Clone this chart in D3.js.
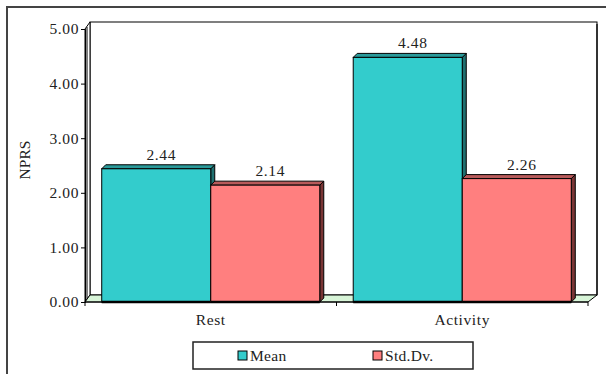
<!DOCTYPE html>
<html><head><meta charset="utf-8">
<script src="https://cdn.jsdelivr.net/npm/d3@7/dist/d3.min.js"></script>
<style>
html,body{margin:0;padding:0;background:#fff;}
svg{display:block;}
text{font-family:"Liberation Serif","Times New Roman",serif;fill:#222;}
</style></head>
<body>
<svg id="c" width="606" height="374"></svg>
<script>
const categories = ["Rest", "Activity"];
const seriesNames = ["Mean", "Std.Dv."];
const meanValues = [2.44, 4.48];
const stdValues = [2.14, 2.26];
const yTicks = [0, 1, 2, 3, 4, 5];
const yTitle = "NPRS";

const fills = {"Mean": "#33CCCC", "Std.Dv.": "#FF7F7F"};
const tops = {"Mean": "#2A9A9A", "Std.Dv.": "#B85A5A"};
const sides = {"Mean": "#1F7070", "Std.Dv.": "#7A3535"};

const svg = d3.select("#c");
const W = 606, H = 374;

// outer frame (clipped on right/bottom)
svg.append("rect").attr("x", 7).attr("y", 7).attr("width", 620).attr("height", 400)
  .attr("fill", "none").attr("stroke", "#444").attr("stroke-width", 2);

const x0 = 85, x1 = 588;
const y = d3.scaleLinear().domain([0, 5]).range([302, 29]);
const x = d3.scaleBand().domain(categories).range([x0, x1]).paddingInner(0.133).paddingOuter(0.0665);
const xs = d3.scaleBand().domain(seriesNames).range([0, x.bandwidth()]);

const wdx = 5, wdy = -7; // wall depth
const bd = 4; // bar depth

const g = svg.append("g");
// back wall
g.append("rect").attr("x", x0 + wdx).attr("y", y(5) + wdy)
  .attr("width", x1 - x0 + 4).attr("height", y(0) - y(5))
  .attr("fill", "#fff").attr("stroke", "#000").attr("stroke-width", 1);
// right shadow of back wall
g.append("line").attr("x1", x1 + wdx + 0 + 4).attr("x2", x1 + wdx + 4)
  .attr("y1", y(5) + wdy + 2).attr("y2", y(0) + wdy)
  .attr("stroke", "#333").attr("stroke-width", 2);
// side wall
g.append("path").attr("d", d3.line()([[x0, y(5)], [x0 + wdx, y(5) + wdy], [x0 + wdx, y(0) + wdy], [x0, y(0)]]) + "Z")
  .attr("fill", "#fff").attr("stroke", "#000").attr("stroke-width", 1);
g.append("line").attr("x1", x0 + 2).attr("x2", x0 + 2).attr("y1", y(5) - 2).attr("y2", y(0) - 2)
  .attr("stroke", "#000").attr("stroke-width", 1);
// floor
g.append("path").attr("d", d3.line()([[x0, y(0)], [x0 + wdx, y(0) + wdy], [x1 + wdx + 4, y(0) + wdy], [x1, y(0)]]) + "Z")
  .attr("fill", "#D8F5D8").attr("stroke", "#000").attr("stroke-width", 1);

// y axis
const yAxis = d3.axisLeft(y).tickValues(yTicks).tickFormat(d3.format(".2f")).tickSize(4).tickPadding(2);
const ya = svg.append("g").attr("transform", `translate(${x0},0)`).call(yAxis);
ya.select(".domain").attr("stroke", "#000");
ya.selectAll(".tick line").attr("stroke", "#000");
ya.selectAll("text").attr("font-size", 15.5).attr("font-family", "Liberation Serif").attr("fill", "#333").attr("letter-spacing", 0.6);

// x axis
const xa = svg.append("g").attr("transform", `translate(0,${y(0)})`);
xa.append("line").attr("x1", x0).attr("x2", x1).attr("stroke", "#000");
const bounds = [x0, ...categories.slice(1).map(c => x(c) - x.step() * x.paddingInner() / 2), x1];
xa.selectAll("line.t").data(bounds).join("line").attr("class", "t")
  .attr("x1", d => d).attr("x2", d => d).attr("y1", 0).attr("y2", 4).attr("stroke", "#000");
xa.selectAll("text").data(categories).join("text")
  .attr("x", d => x(d) + x.bandwidth() / 2).attr("y", 23)
  .attr("text-anchor", "middle").attr("font-size", 15.5).attr("fill", "#333").attr("letter-spacing", 0.6)
  .text(d => d);

// bars
const seriesData = {"Mean": meanValues, "Std.Dv.": stdValues};
const bars = [];
categories.forEach((c, i) => {
  seriesNames.forEach(s => bars.push({c, s, v: seriesData[s][i]}));
});
const bg = svg.append("g");
bars.forEach(b => {
  const bx = x(b.c) + xs(b.s), w = xs.bandwidth(), yt = y(b.v), yb = y(0);
  const gb = bg.append("g");
  gb.append("path").attr("d", d3.line()([[bx + w, yt], [bx + w + bd, yt - bd], [bx + w + bd, yb - bd], [bx + w, yb]]) + "Z")
    .attr("fill", sides[b.s]).attr("stroke", "#000").attr("stroke-width", 1);
  gb.append("path").attr("d", d3.line()([[bx, yt], [bx + bd, yt - bd], [bx + w + bd, yt - bd], [bx + w, yt]]) + "Z")
    .attr("fill", tops[b.s]).attr("stroke", "#000").attr("stroke-width", 1);
  gb.append("rect").attr("x", bx).attr("y", yt).attr("width", w).attr("height", yb - yt)
    .attr("fill", fills[b.s]).attr("stroke", "#000").attr("stroke-width", 1);
  gb.append("line").attr("x1", bx).attr("x2", bx + w).attr("y1", yb).attr("y2", yb)
    .attr("stroke", "#000").attr("stroke-width", 2.5);
  svg.append("text").attr("x", bx + w / 2 + bd + 1).attr("y", yt - bd - 5)
    .attr("text-anchor", "middle").attr("font-size", 15.5).attr("fill", "#333").attr("letter-spacing", 0.6)
    .text(d3.format(".2f")(b.v));
});

// y title
svg.append("text").attr("transform", "translate(30,160) rotate(-90)")
  .attr("text-anchor", "middle").attr("font-size", 15.5).attr("fill", "#333")
  .text(yTitle);

// legend
const lg = svg.append("g");
lg.append("rect").attr("x", 193).attr("y", 342).attr("width", 280).attr("height", 27)
  .attr("fill", "#fff").attr("stroke", "#222").attr("stroke-width", 1.5);
const legX = [238, 373];
seriesNames.forEach((s, i) => {
  lg.append("rect").attr("x", legX[i]).attr("y", 351).attr("width", 9).attr("height", 9)
    .attr("fill", fills[s]).attr("stroke", "#000").attr("stroke-width", 1);
  lg.append("text").attr("x", legX[i] + 12).attr("y", 361).attr("font-size", 15.5)
    .attr("fill", "#333").attr("letter-spacing", 0.3).text(s);
});
</script>
</body></html>
